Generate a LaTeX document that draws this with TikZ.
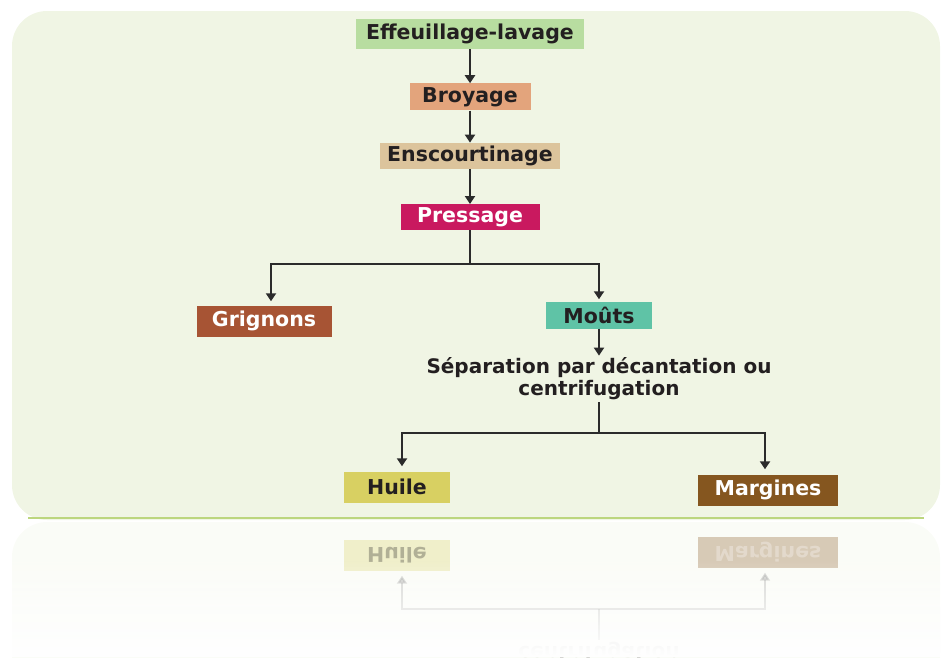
\documentclass[tikz,border=0pt]{standalone}
\usepackage{fontspec}
\setmainfont{DejaVu Sans}
\usetikzlibrary{positioning, arrows.meta, fadings}

\definecolor{panel}{HTML}{F0F5E4}
\definecolor{panelline}{HTML}{BCD67E}
\definecolor{effcol}{HTML}{B8DDA0}
\definecolor{broycol}{HTML}{E3A47C}
\definecolor{enscol}{HTML}{DCC49C}
\definecolor{presscol}{HTML}{C9195F}
\definecolor{grigcol}{HTML}{A75434}
\definecolor{moutcol}{HTML}{5FC3A6}
\definecolor{huilecol}{HTML}{D8D062}
\definecolor{margcol}{HTML}{85561F}
\definecolor{txt}{HTML}{231F20}
\definecolor{wirecol}{HTML}{2B2B2B}

\begin{document}
\begin{tikzpicture}[x=1pt, y=-1pt,
	stepbox/.style={rectangle, inner sep=0pt, minimum height=27pt, text=txt, font=\fontsize{20.5}{23}\selectfont\bfseries},
	note/.style={inner sep=2pt, align=center, text=txt, font=\fontsize{20}{22}\selectfont\bfseries},
	wire/.style={line width=2.5pt, draw=wirecol},
	flow/.style={wire, -{Triangle[width=10pt, length=8pt]}}]
	
	\useasboundingbox (0,0) rectangle (943,657);
	
	% panel
	\fill[panel, rounded corners=35pt] (12,11) rectangle (940,520);
	\draw[panelline, line width=2pt] (28,518) -- (924,518);
	
	% reflection
	\begin{scope}
		\clip (0,521) rectangle (943,657);
		\begin{scope}[shift={(0,1042)}, yscale=-1, transform shape, opacity=0.3]
			\fill[panel, rounded corners=35pt] (12,11) rectangle (940,520);
			\node[note, text=txt!60] (rsep) at (599,379) {S\'eparation par d\'ecantation ou\\centrifugation};
			\node[stepbox, fill=huilecol, minimum width=106pt, minimum height=31pt] (rhuile) at (397,487) {Huile};
			\node[stepbox, fill=margcol, text=white, minimum width=140pt, minimum height=31pt] (rmarg) at (768,490) {Margines};
			\coordinate (rfork) at (599,433);
			\draw[wire, draw=gray] (rsep.south) -- (rfork);
			\draw[flow, draw=gray, shorten >=5pt] (rfork) -| ([xshift=5pt]rhuile.north);
			\draw[flow, draw=gray, shorten >=5pt] (rfork) -| ([xshift=-3pt]rmarg.north);
		\end{scope}
		\fill[white, path fading=north] (0,560) rectangle (943,657);
	\end{scope}
	
	% main chain
	\node[stepbox, fill=effcol, minimum width=228pt, minimum height=30pt] (effeuil) at (470,34) {Effeuillage-lavage};
	\node[stepbox, fill=broycol, minimum width=121pt, below=34pt of effeuil] (broy) {Broyage};
	\node[stepbox, fill=enscol, minimum width=180pt, minimum height=26pt, below=32pt of broy] (enscourt) {Enscourtinage};
	\node[stepbox, fill=presscol, text=white, minimum width=139pt, minimum height=26pt, below=35pt of enscourt] (press) {Pressage};
	
	\node[stepbox, fill=grigcol, text=white, minimum width=135pt, minimum height=31pt] (grign) at (264,321) {Grignons};
	\node[stepbox, fill=moutcol, minimum width=106pt] (mouts) at (599,315) {Mo\^uts};
	\node[note] (sep) at (599,379) {S\'eparation par d\'ecantation ou\\centrifugation};
	
	\node[stepbox, fill=huilecol, minimum width=106pt, minimum height=31pt] (huile) at (397,487) {Huile};
	\node[stepbox, fill=margcol, text=white, minimum width=140pt, minimum height=31pt] (marg) at (768,490) {Margines};
	
	\draw[flow] (effeuil) -- (broy);
	\draw[flow] (broy) -- (enscourt);
	\draw[flow] (enscourt) -- (press);
	
	\coordinate (fork1) at (470,264);
	\draw[wire] (press.south) -- (fork1);
	\draw[flow, shorten >=4pt] (fork1) -| ([xshift=7pt]grign.north);
	\draw[flow, shorten >=2pt] (fork1) -| (mouts.north);
	\draw[flow] (mouts) -- (sep);
	
	\coordinate (fork2) at (599,433);
	\draw[wire] (sep.south) -- (fork2);
	\draw[flow, shorten >=5pt] (fork2) -| ([xshift=5pt]huile.north);
	\draw[flow, shorten >=5pt] (fork2) -| ([xshift=-3pt]marg.north);
\end{tikzpicture}
\end{document}
